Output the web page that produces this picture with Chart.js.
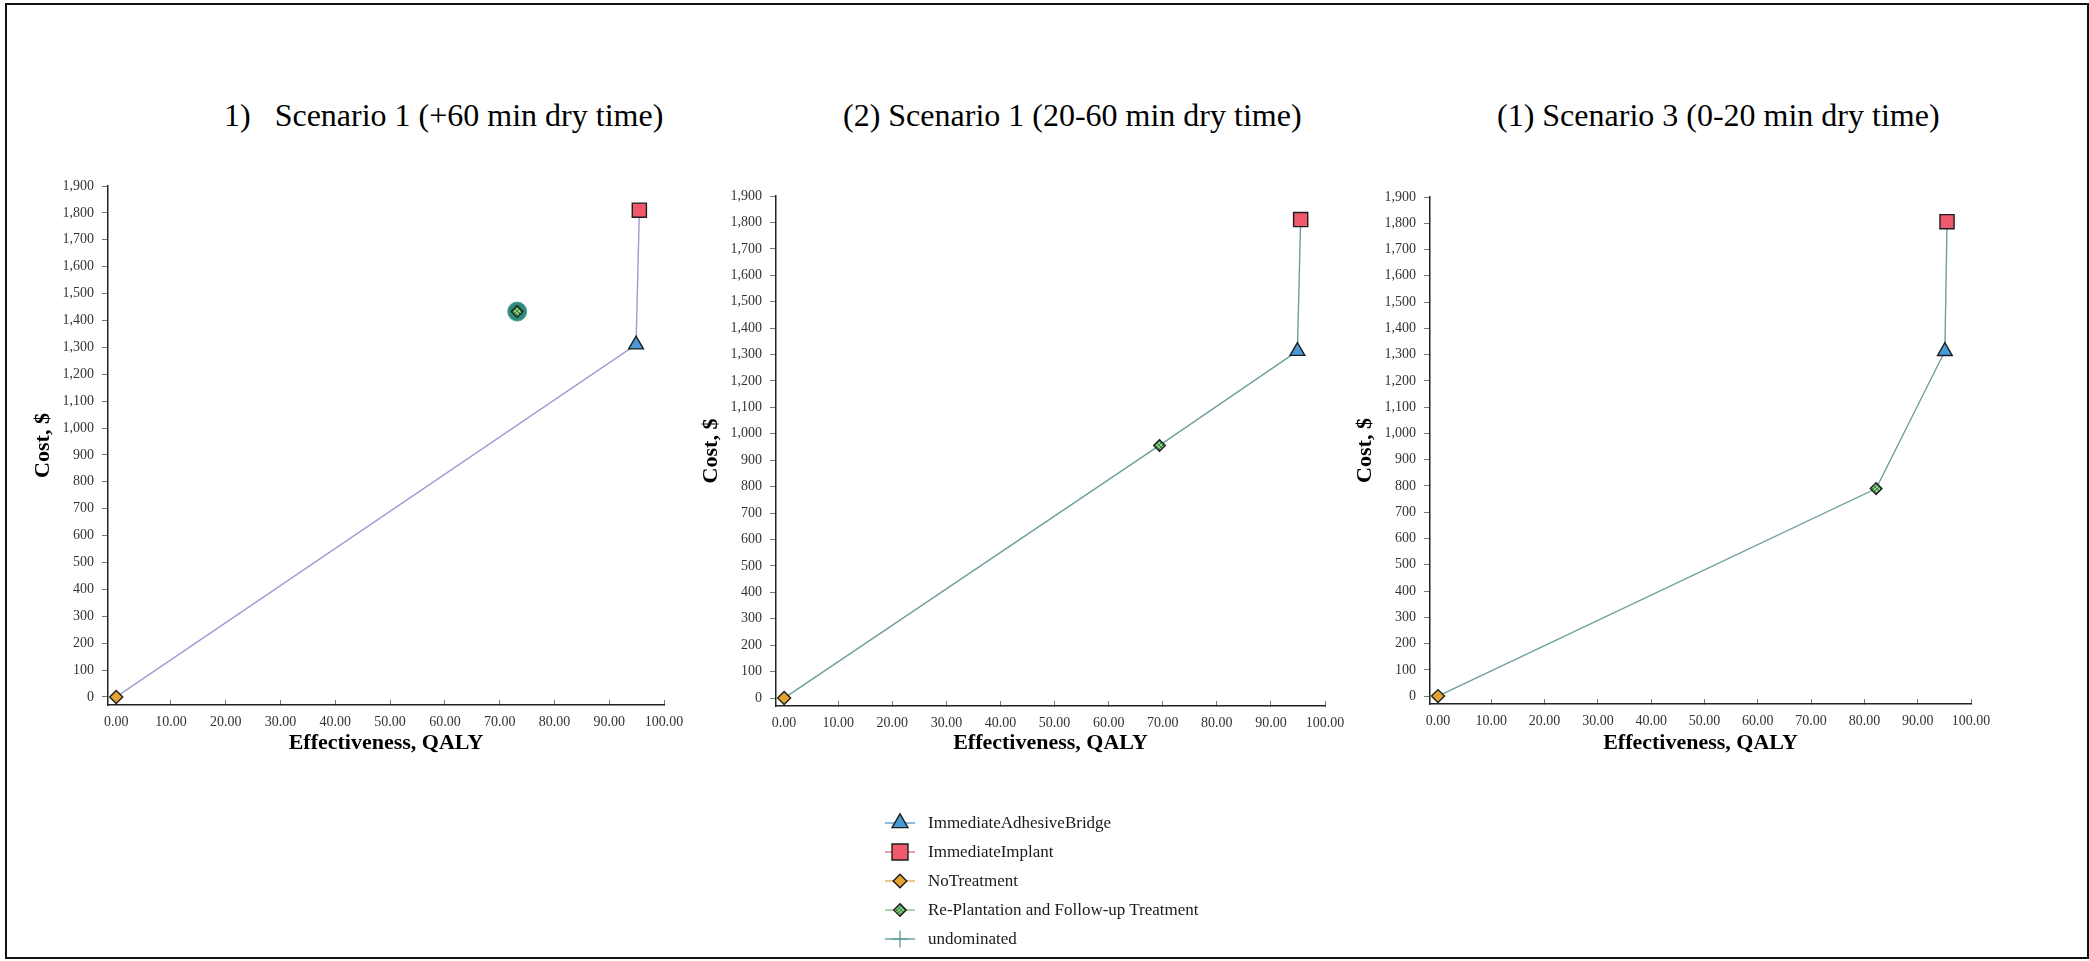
<!DOCTYPE html>
<html>
<head>
<meta charset="utf-8">
<title>Cost-effectiveness frontiers by dry time scenario</title>
<script src="https://cdn.jsdelivr.net/npm/chart.js@4.4.1/dist/chart.umd.min.js"></script>
<style>
    html, body { margin: 0; padding: 0; background: #fff; }
    body {
        width: 2089px;
        height: 961px;
        position: relative;
        overflow: hidden;
        font-family: 'Liberation Serif', 'Times New Roman', serif;
    }
    .frame {
        position: absolute;
        left: 5px;
        top: 3px;
        width: 2084px;
        height: 956px;
        border: 2px solid #111;
        box-sizing: border-box;
    }
    .panel-title {
        position: absolute;
        top: 99px;
        font-size: 32px;
        line-height: 32px;
        color: #000;
        white-space: pre;
    }
    .panel { position: absolute; top: 150px; }
    .legend { position: absolute; left: 880px; top: 808px; }
    .legend-row {
        height: 29px;
        display: flex;
        align-items: center;
        font-size: 17px;
        color: #1a1a1a;
        white-space: pre;
    }
    .legend-row canvas { margin-right: 8px; }
</style>
</head>
<body>
<div class="frame"></div>
<div class="legend" id="legend"></div>

<script>
// Strategies compared in each scenario (order is the legend order)
const strategies = ['ImmediateAdhesiveBridge', 'ImmediateImplant', 'NoTreatment', 'Re-Plantation and Follow-up Treatment'];
const scenarioTitles = ['1)   Scenario 1 (+60 min dry time)', '(2) Scenario 1 (20-60 min dry time)', '(1) Scenario 3 (0-20 min dry time)'];

// Effectiveness (QALY) and cost ($) per strategy
const effectiveness1 = [94.9, 95.5, 0.0, 73.2];
const cost1 = [1310, 1810, 0, 1433];
const effectiveness2 = [94.9, 95.5, 0.0, 69.4];
const cost2 = [1313, 1811, 0, 956];
const effectiveness3 = [95.1, 95.5, 0.0, 82.2];
const cost3 = [1313, 1806, 0, 790];

// Undominated frontier, as indexes into strategies
const frontier1 = [2, 0, 1];
const frontier2 = [2, 3, 0, 1];
const frontier3 = [2, 3, 0, 1];

// Strategies ringed as extendedly dominated
const ringed1 = [3];
const ringed2 = [];
const ringed3 = [];

const xTicks = [0, 10, 20, 30, 40, 50, 60, 70, 80, 90, 100];
const yTicks = [0, 100, 200, 300, 400, 500, 600, 700, 800, 900, 1000, 1100, 1200, 1300, 1400, 1500, 1600, 1700, 1800, 1900];

document.addEventListener('DOMContentLoaded', function() {
    Chart.defaults.font.family = "'Liberation Serif', 'Times New Roman', serif";

    // Small checkered fill for the re-plantation diamond
    const hatchCanvas = document.createElement('canvas');
    hatchCanvas.width = 4;
    hatchCanvas.height = 4;
    const hctx = hatchCanvas.getContext('2d');
    hctx.fillStyle = '#8fd08f';
    hctx.fillRect(0, 0, 4, 4);
    hctx.fillStyle = '#3f8f3f';
    hctx.fillRect(0, 0, 2, 2);
    hctx.fillRect(2, 2, 2, 2);
    const hatch = hctx.createPattern(hatchCanvas, 'repeat');

    const markers = [
        { pointStyle: 'triangle', radius: 8.5, fill: '#4a9ad6', line: '#3f8fcc', legendRadius: 9.2 },
        { pointStyle: 'rect', radius: 10, fill: '#f0596c', line: '#e0606e', legendRadius: 11.3 },
        { pointStyle: 'rectRot', radius: 6.5, fill: '#e3a432', line: '#d9a040', legendRadius: 6.8 },
        { pointStyle: 'rectRot', radius: 5.8, fill: hatch, line: '#6cbf6c', legendRadius: 6.2 }
    ];

    const scenarios = [
        { eff: effectiveness1, cost: cost1, frontier: frontier1, ringed: ringed1, lineColor: '#9d9dd4' },
        { eff: effectiveness2, cost: cost2, frontier: frontier2, ringed: ringed2, lineColor: '#6e9e9c' },
        { eff: effectiveness3, cost: cost3, frontier: frontier3, ringed: ringed3, lineColor: '#6e9e9c' }
    ];

    // Where each plot area sits on the page, plus its title
    const panels = [
        { titleLeft: 224, area: { left: 108, right: 664, top: 186, bottom: 705 } },
        { titleLeft: 843, area: { left: 776, right: 1325, top: 196, bottom: 706 } },
        { titleLeft: 1497, area: { left: 1430, right: 1971, top: 197, bottom: 704 } }
    ];
    const canvasTop = 150;
    const canvasW = 720;
    const canvasH = 620;
    const yAxisW = 108;

    scenarios.forEach((sc, index) => {
        const panel = panels[index];
        const area = panel.area;

        const title = document.createElement('div');
        title.className = 'panel-title';
        title.style.left = panel.titleLeft + 'px';
        title.textContent = scenarioTitles[index];
        document.body.appendChild(title);

        const canvas = document.createElement('canvas');
        canvas.className = 'panel';
        canvas.width = canvasW;
        canvas.height = canvasH;
        const canvasLeft = area.left - yAxisW;
        canvas.style.left = canvasLeft + 'px';
        document.body.appendChild(canvas);

        const datasets = [];

        // One dataset per strategy
        strategies.forEach((name, i) => {
            const m = markers[i];
            datasets.push({
                label: name,
                data: [{ x: sc.eff[i], y: sc.cost[i] }],
                pointStyle: m.pointStyle,
                pointRadius: m.radius,
                backgroundColor: m.fill,
                borderColor: '#1e1e1e',
                pointBorderWidth: 1.4,
                showLine: false,
                order: 1
            });
        });

        // Teal ring under extendedly dominated strategies
        if (sc.ringed.length > 0) {
            datasets.push({
                label: 'ring',
                data: sc.ringed.map(i => ({ x: sc.eff[i], y: sc.cost[i] })),
                pointStyle: 'circle',
                pointRadius: 9.5,
                backgroundColor: '#2f8a7c',
                borderColor: '#4a9f93',
                pointBorderWidth: 1,
                showLine: false,
                order: 5
            });
        }

        // Undominated frontier line
        datasets.push({
            label: 'undominated',
            data: sc.frontier.map(i => ({ x: sc.eff[i], y: sc.cost[i] })),
            showLine: true,
            borderColor: sc.lineColor,
            borderWidth: 1.4,
            pointRadius: 0,
            fill: false,
            order: 10
        });

        new Chart(canvas, {
            type: 'scatter',
            data: { datasets: datasets },
            options: {
                responsive: false,
                animation: false,
                devicePixelRatio: 1,
                layout: {
                    padding: {
                        left: 0,
                        right: canvasLeft + canvasW - area.right,
                        top: area.top - canvasTop,
                        bottom: 0
                    }
                },
                plugins: {
                    legend: { display: false },
                    tooltip: { enabled: false }
                },
                scales: {
                    x: {
                        type: 'linear',
                        min: -1.5,
                        max: 100,
                        afterBuildTicks: function(scale) {
                            scale.ticks = xTicks.map(v => ({ value: v }));
                        },
                        afterFit: function(scale) {
                            scale.height = canvasTop + canvasH - area.bottom;
                        },
                        border: { color: '#222', width: 1.5 },
                        grid: { drawOnChartArea: false, tickLength: -5, color: '#777' },
                        ticks: {
                            padding: 14,
                            color: '#333',
                            font: { size: 14 },
                            maxRotation: 0,
                            callback: function(value) {
                                return Number(value).toFixed(2);
                            }
                        },
                        title: {
                            display: true,
                            text: 'Effectiveness, QALY',
                            color: '#000',
                            font: { size: 22, weight: 'bold' },
                            padding: { top: 0, bottom: 13 }
                        }
                    },
                    y: {
                        type: 'linear',
                        min: -30,
                        max: 1900,
                        afterBuildTicks: function(scale) {
                            scale.ticks = yTicks.map(v => ({ value: v }));
                        },
                        afterFit: function(scale) {
                            scale.width = yAxisW;
                        },
                        border: { color: '#222', width: 1.5 },
                        grid: { drawOnChartArea: false, tickLength: 6, color: '#777' },
                        ticks: {
                            padding: 8,
                            color: '#333',
                            font: { size: 14 },
                            callback: function(value) {
                                return Number(value).toLocaleString('en-US');
                            }
                        },
                        title: {
                            display: true,
                            text: 'Cost, $',
                            color: '#000',
                            font: { size: 22, weight: 'bold' },
                            padding: { top: 30, bottom: 0 }
                        }
                    }
                }
            }
        });
    });

    // Shared legend below the three panels
    const legend = document.getElementById('legend');
    const legendItems = strategies.map((name, i) => ({ name: name, marker: markers[i], lineColor: markers[i].line }));
    legendItems.push({ name: 'undominated', marker: null, lineColor: '#4f8f8f' });

    legendItems.forEach(item => {
        const row = document.createElement('div');
        row.className = 'legend-row';
        const glyph = document.createElement('canvas');
        glyph.width = 40;
        glyph.height = 26;
        const ctx = glyph.getContext('2d');
        ctx.strokeStyle = item.lineColor;
        ctx.lineWidth = 1.2;
        ctx.beginPath();
        ctx.moveTo(5, 13);
        ctx.lineTo(35, 13);
        ctx.stroke();
        if (item.marker) {
            ctx.fillStyle = item.marker.fill;
            ctx.strokeStyle = '#1e1e1e';
            ctx.lineWidth = 1.4;
            Chart.helpers.drawPoint(ctx, {
                pointStyle: item.marker.pointStyle,
                radius: item.marker.legendRadius,
                rotation: 0,
                borderWidth: 1.4
            }, 20, 13);
        } else {
            ctx.strokeStyle = item.lineColor;
            ctx.lineWidth = 1.2;
            Chart.helpers.drawPoint(ctx, { pointStyle: 'cross', radius: 8.5, rotation: 0, borderWidth: 1.2 }, 20, 13);
        }
        const label = document.createElement('span');
        label.textContent = item.name;
        row.appendChild(glyph);
        row.appendChild(label);
        legend.appendChild(row);
    });
});
</script>
</body>
</html>
